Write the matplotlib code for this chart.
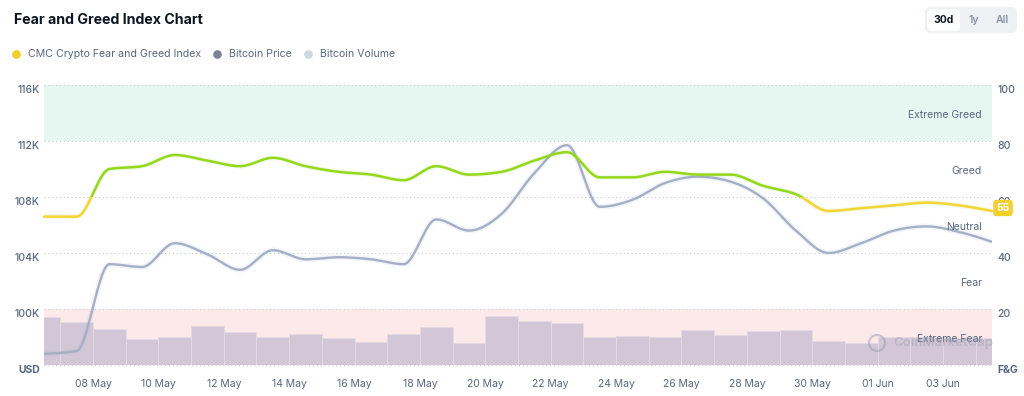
import numpy as np
import pandas as pd
import matplotlib
matplotlib.use("Agg")
import matplotlib.pyplot as plt
import matplotlib.dates as mdates
import matplotlib.transforms as mtransforms
from matplotlib.lines import Line2D
from matplotlib.patches import FancyBboxPatch, Rectangle, Circle

plt.rcParams['font.family'] = ['Inter', 'DejaVu Sans']

# ---------------- data ----------------
dates = pd.date_range('2025-05-06 12:00', '2025-06-04 12:00', freq='D')
fear_greed = [53, 53, 70, 71, 75, 73, 71, 74, 71, 69, 68, 66, 71, 68, 69,
              73, 76, 67, 67, 69, 68, 68, 64, 61, 55, 56, 57, 58, 57, 55]
btc_price = [96800, 97000, 103200, 103000, 104700, 103900, 102800, 104200,
             103550, 103700, 103550, 103200, 106400, 105600, 106800, 109700,
             111700, 107300, 107800, 109000, 109450, 109100, 107900, 105600,
             104000, 104700, 105600, 105900, 105500, 104800]
btc_volume_b = [59.6, 53.8, 45.4, 32.1, 35.4, 48.8, 40.9, 35.4, 38.8, 34.1,
                28.8, 38.8, 47.5, 27.9, 60.9, 54.4, 52.9, 35.4, 36.6, 35.4,
                44.1, 37.9, 42.9, 44.1, 29.6, 27.9, 35.4, 35.4, 34.1, 33.4]
price_ticks = [96000, 100000, 104000, 108000, 112000, 116000]
price_labels = ['USD', '100K', '104K', '108K', '112K', '116K']
fg_ticks = [0, 20, 40, 60, 80, 100]
fg_labels = ['F&G', '20', '40', '60', '80', '100']
zones = ['Extreme Fear', 'Fear', 'Neutral', 'Greed', 'Extreme Greed']
zone_label_y = [9.3, 29.3, 49.3, 69.3, 89.3]
x_ticks = pd.date_range('2025-05-08', '2025-06-03', freq='2D')

# ---------------- helpers ----------------
def monotone_curve(x, y, n=24):
    x = np.asarray(x, float); y = np.asarray(y, float)
    h = np.diff(x); s = np.diff(y) / h
    m = np.zeros_like(y)
    for i in range(1, len(y) - 1):
        s0, s1, h0, h1 = s[i - 1], s[i], h[i - 1], h[i]
        p = (s0 * h1 + s1 * h0) / (h0 + h1)
        m[i] = (np.sign(s0) + np.sign(s1)) * min(abs(s0), abs(s1), 0.5 * abs(p))
    m[0] = (3 * s[0] - m[1]) / 2
    m[-1] = (3 * s[-1] - m[-2]) / 2
    xs, ys = [], []
    for i in range(len(h)):
        t = np.linspace(0, 1, n, endpoint=(i == len(h) - 1))
        h00 = 2 * t**3 - 3 * t**2 + 1
        h10 = t**3 - 2 * t**2 + t
        h01 = -2 * t**3 + 3 * t**2
        h11 = t**3 - t**2
        xs.append(x[i] + t * h[i])
        ys.append(h00 * y[i] + h10 * h[i] * m[i] + h01 * y[i + 1] + h11 * h[i] * m[i + 1])
    return np.concatenate(xs), np.concatenate(ys)

W, H = 1024, 396
fig = plt.figure(figsize=(W / 100, H / 100), dpi=100)
fig.patch.set_facecolor('white')

def px(x, y):
    return (x / 100, (H - y) / 100)

TXT = '#58667e'
rect = [44 / W, 1 - 365 / H, (992 - 44) / W, (365 - 85) / H]

xnum = mdates.date2num(dates)
x0, x1 = xnum[0], xnum[-1]

# volume axes (bottom layer)
axv = fig.add_axes(rect)
axv.set_zorder(0)
axp = fig.add_axes(rect, sharex=axv)
axp.set_zorder(1)
axp.patch.set_visible(False)
axf = axp.twinx()
axf.set_zorder(2)
axf.patch.set_visible(False)

# bands
axv.add_patch(Rectangle((0, 0.8), 1, 0.2, transform=axv.transAxes,
                        facecolor='#e6f7f1', edgecolor='none', zorder=0))
axv.add_patch(Rectangle((0, 0.0), 1, 0.2, transform=axv.transAxes,
                        facecolor='#fde9e9', edgecolor='none', zorder=0))
# volume bars
axv.bar(xnum, btc_volume_b, width=1.0, align='center', color='#d3c6d6',
        edgecolor='#e4dbe6', linewidth=0.6, zorder=1)
axv.set_ylim(0, 350)
axv.set_xlim(x0, x1)
axv.axis('off')
for f in [0, 0.2, 0.4, 0.6, 0.8, 1.0]:
    axv.plot([0, 1], [f, f], transform=axv.transAxes, color='#c5cad4',
             lw=0.8, linestyle=(0, (1, 2.5)), zorder=2, clip_on=False)

# price line
xs, ys = monotone_curve(xnum, btc_price)
axp.plot(xs, ys, color='#a8b1c8', lw=4.0, alpha=0.12, solid_capstyle='round')
axp.plot(xs, ys, color='#a5afc6', lw=1.7, solid_capstyle='round')
axp.set_ylim(96000, 116000)
axp.set_xlim(x0, x1)
axp.set_yticks(price_ticks)
axp.set_yticklabels(price_labels)
axp.tick_params(axis='y', length=0, pad=3, labelsize=7.5, labelcolor=TXT)
for lab in axp.get_yticklabels():
    lab.set_va('top')
    lab.set_fontweight('medium')
axp.get_yticklabels()[0].set_fontweight('bold')
axp.set_xticks(mdates.date2num(x_ticks))
axp.set_xticklabels([d.strftime('%d %b') for d in x_ticks])
axp.tick_params(axis='x', length=0, pad=10, labelsize=7.5, labelcolor=TXT)
for sp in axp.spines.values():
    sp.set_visible(False)

# fear & greed line
fx, fy = monotone_curve(xnum, fear_greed)
green = '#93d81c'
yellow = '#f5d434'
axf.plot(fx, fy, color=green, lw=3.5, alpha=0.12)
lg, = axf.plot(fx, fy, color=green, lw=1.8, solid_capstyle='round')
ly, = axf.plot(fx, fy, color=yellow, lw=1.8, solid_capstyle='round')
hi = Rectangle((x0 - 5, 60), (x1 - x0) + 10, 200, transform=axf.transData)
lo = Rectangle((x0 - 5, -100), (x1 - x0) + 10, 160, transform=axf.transData)
lg.set_clip_path(hi)
ly.set_clip_path(lo)
axf.set_ylim(0, 100)
axf.set_yticks(fg_ticks)
axf.set_yticklabels(fg_labels)
axf.tick_params(axis='y', length=0, pad=4, labelsize=7.5, labelcolor=TXT)
for lab in axf.get_yticklabels():
    lab.set_va('top')
    lab.set_fontweight('medium')
axf.get_yticklabels()[0].set_fontweight('bold')
for sp in axf.spines.values():
    sp.set_visible(False)

# zone labels
tr = mtransforms.blended_transform_factory(axf.transAxes, axf.transData)
for name, yv in zip(zones, zone_label_y):
    axf.text(0.9895, yv, name, transform=tr, ha='right', va='center',
             fontsize=7.5, color=TXT, zorder=5)

# watermark
axf.add_patch(Circle((877 / 100, (H - 343) / 100), 0.08, transform=fig.dpi_scale_trans,
                     facecolor='none', edgecolor='#9aa0b0', lw=1.6, alpha=0.5,
                     clip_on=False))
fig.text(893 / W, 1 - 343 / H, 'CoinMarketCap', fontsize=9.5, color='#9aa0b0',
         alpha=0.45, va='center', ha='left', fontweight='semibold')

# last value badge
axf.annotate(str(fear_greed[-1]), xy=(1, fear_greed[-1]), xycoords=tr,
             xytext=(11, 3), textcoords='offset pixels', ha='center', va='center',
             fontsize=7.5, fontweight='bold', color='white', zorder=10,
             annotation_clip=False,
             bbox=dict(boxstyle='round,pad=0.3,rounding_size=0.3', fc='#f3d02c', ec='none'))

# title
fig.text(14 / W, 1 - 20 / H, 'Fear and Greed Index Chart', fontsize=10.2,
         fontweight='bold', color='#0d1421', va='center', ha='left')

# legend
leg_y = 1 - 54 / H
legend_items = [('CMC Crypto Fear and Greed Index', '#f0cf2b', 16),
                ('Bitcoin Price', '#7b8297', 217),
                ('Bitcoin Volume', '#cfd6e4', 308)]
for label, col, xp in legend_items:
    fig.add_artist(Line2D([xp / W], [leg_y], marker='o', markersize=5.2,
                          color=col, linestyle='none'))
    fig.text((xp + 12) / W, leg_y, label, fontsize=7.6, color=TXT,
             va='center', ha='left')

# range buttons
fig.add_artist(FancyBboxPatch(px(925, 33), 0.92, 0.26, transform=fig.dpi_scale_trans,
                              boxstyle='round,pad=0,rounding_size=0.06',
                              fc='#eff2f5', ec='none'))
fig.add_artist(FancyBboxPatch(px(927, 31), 0.33, 0.22, transform=fig.dpi_scale_trans,
                              boxstyle='round,pad=0,rounding_size=0.05',
                              fc='white', ec='none'))
fig.text(943.5 / W, 1 - 20 / H, '30d', fontsize=7.5, fontweight='bold',
         color='#0d1421', ha='center', va='center')
fig.text(974 / W, 1 - 20 / H, '1y', fontsize=7.5, fontweight='semibold',
         color='#8a93a6', ha='center', va='center')
fig.text(1002 / W, 1 - 20 / H, 'All', fontsize=7.5, fontweight='semibold',
         color='#8a93a6', ha='center', va='center')

fig.savefig('out.png', dpi=100, facecolor='white')
